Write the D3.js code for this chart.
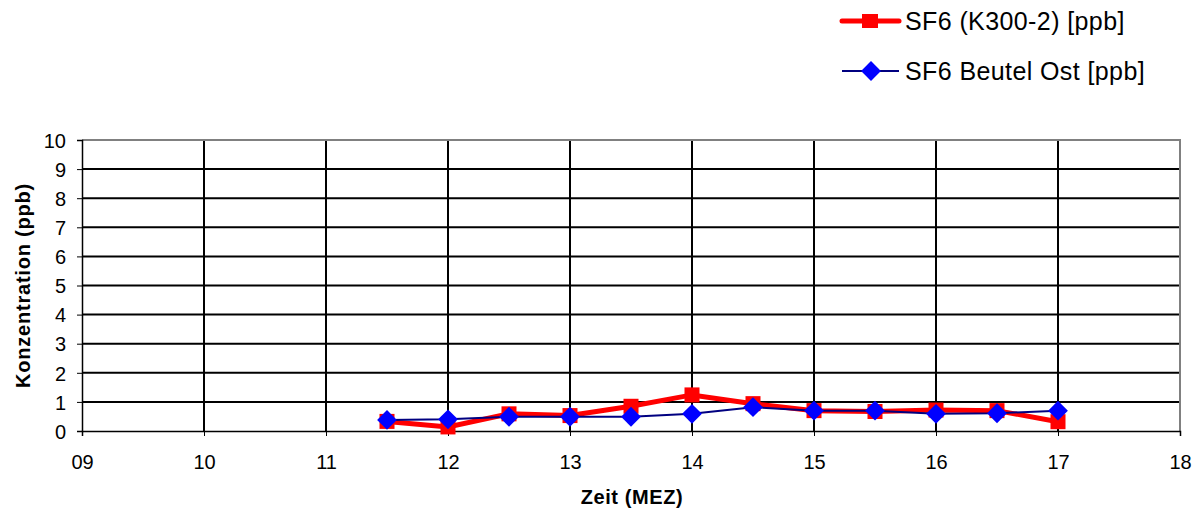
<!DOCTYPE html>
<html>
<head>
<meta charset="utf-8">
<script src="https://cdn.jsdelivr.net/npm/d3@7"></script>
<style>
  body { margin: 0; background: #fff; }
  text { font-family: Arial, "Liberation Sans", sans-serif; }
</style>
</head>
<body>
<div id="chart"></div>
<script>
// values
const times = [11.5, 12, 12.5, 13, 13.5, 14, 14.5, 15, 15.5, 16, 16.5, 17];
const k300 = [0.33, 0.14, 0.59, 0.53, 0.85, 1.24, 0.94, 0.70, 0.67, 0.72, 0.70, 0.32];
const beutelOst = [0.38, 0.40, 0.49, 0.49, 0.49, 0.59, 0.82, 0.70, 0.70, 0.59, 0.61, 0.70];
const xTicks = [9, 10, 11, 12, 13, 14, 15, 16, 17, 18];
const yTicks = [0, 1, 2, 3, 4, 5, 6, 7, 8, 9, 10];
const seriesNames = ["SF6 (K300-2) [ppb]", "SF6 Beutel Ost [ppb]"];

const W = 1202, H = 518;
const margin = {top: 140, right: 22, bottom: 87, left: 82};
const width = W - margin.left - margin.right,
      height = H - margin.top - margin.bottom;

const root = d3.select("#chart").append("svg")
    .attr("width", W)
    .attr("height", H);

const svg = root.append("g")
    .attr("transform", "translate(" + margin.left + "," + margin.top + ")");

const x = d3.scaleLinear().domain([9, 18]).range([0, width]);
const y = d3.scaleLinear().domain([0, 10]).range([height, 0]);

// horizontal grid
svg.selectAll(".hgrid")
  .data(yTicks.filter(d => d > 0 && d < 10))
  .join("line")
  .attr("x1", 0).attr("x2", width)
  .attr("y1", d => y(d)).attr("y2", d => y(d))
  .attr("stroke", "#000").attr("stroke-width", 2);

// vertical grid
svg.selectAll(".vgrid")
  .data(xTicks.filter(d => d > 9 && d < 18))
  .join("line")
  .attr("x1", d => x(d)).attr("x2", d => x(d))
  .attr("y1", 0).attr("y2", height)
  .attr("stroke", "#000").attr("stroke-width", 2);

// plot border top/right (gray)
svg.append("path")
  .attr("d", `M0,0H${width}V${height}`)
  .attr("fill", "none").attr("stroke", "#808080").attr("stroke-width", 2);

// axes
const yAxis = svg.append("g")
  .call(d3.axisLeft(y).tickValues(yTicks).tickSize(5).tickFormat(d3.format("d")));
const xAxis = svg.append("g")
  .attr("transform", "translate(0," + height + ")")
  .call(d3.axisBottom(x).tickValues(xTicks).tickSize(5).tickFormat(d => d3.format("02d")(d)));

[yAxis, xAxis].forEach(a => {
  a.attr("font-size", null).attr("font-family", null);
  a.select(".domain").attr("stroke", "#000").attr("stroke-width", 1.5);
  a.selectAll(".tick line").attr("stroke", "#000").attr("stroke-width", 1);
  a.selectAll("text").style("font-size", "20px").attr("fill", "#000");
});
yAxis.selectAll("text").attr("x", -16).attr("dy", "0.36em");
xAxis.selectAll("text").attr("y", 24);

// axis titles
root.append("text")
  .attr("transform", "translate(30," + (margin.top + height / 2) + ") rotate(-90)")
  .attr("text-anchor", "middle")
  .style("font-size", "20px").attr("font-weight", "bold")
  .attr("letter-spacing", 0.8)
  .text("Konzentration (ppb)");

root.append("text")
  .attr("x", margin.left + width / 2 + 1).attr("y", 504)
  .attr("text-anchor", "middle")
  .style("font-size", "20px").attr("font-weight", "bold")
  .attr("letter-spacing", 0.6)
  .text("Zeit (MEZ)");

// series
const line = d3.line().x(d => x(d[0])).y(d => y(d[1]));
const redData = times.map((t, i) => [t, k300[i]]);
const blueData = times.map((t, i) => [t, beutelOst[i]]);

svg.append("path").datum(redData)
  .attr("d", line).attr("fill", "none")
  .attr("stroke", "#ff0000").attr("stroke-width", 5);

svg.selectAll(".sq")
  .data(redData)
  .join("rect")
  .attr("x", d => x(d[0]) - 7.5).attr("y", d => y(d[1]) - 7.5)
  .attr("width", 15).attr("height", 15)
  .attr("fill", "#ff0000");

svg.append("path").datum(blueData)
  .attr("d", line).attr("fill", "none")
  .attr("stroke", "#000080").attr("stroke-width", 2);

const diamond = d3.symbol().type(d3.symbolDiamond2).size(250);
svg.selectAll(".dm")
  .data(blueData)
  .join("path")
  .attr("transform", d => "translate(" + x(d[0]) + "," + y(d[1]) + ")")
  .attr("d", diamond)
  .attr("fill", "#0000ff");

// legend
const legend = root.append("g");
const legY = [21, 71];
// red
legend.append("line")
  .attr("x1", 842).attr("x2", 899).attr("y1", legY[0]).attr("y2", legY[0])
  .attr("stroke", "#ff0000").attr("stroke-width", 5).attr("stroke-linecap", "round");
legend.append("rect")
  .attr("x", 862).attr("y", legY[0] - 7).attr("width", 16).attr("height", 14)
  .attr("fill", "#ff0000");
// blue
legend.append("line")
  .attr("x1", 842).attr("x2", 899).attr("y1", legY[1]).attr("y2", legY[1])
  .attr("stroke", "#000080").attr("stroke-width", 2);
legend.append("path")
  .attr("transform", "translate(871," + legY[1] + ")")
  .attr("d", diamond)
  .attr("fill", "#0000ff");

legend.selectAll(".lt")
  .data(seriesNames)
  .join("text")
  .attr("x", 905).attr("y", (d, i) => legY[i])
  .attr("dy", "0.36em")
  .style("font-size", "25px")
  .attr("letter-spacing", 0.4)
  .text(d => d);
</script>
</body>
</html>
